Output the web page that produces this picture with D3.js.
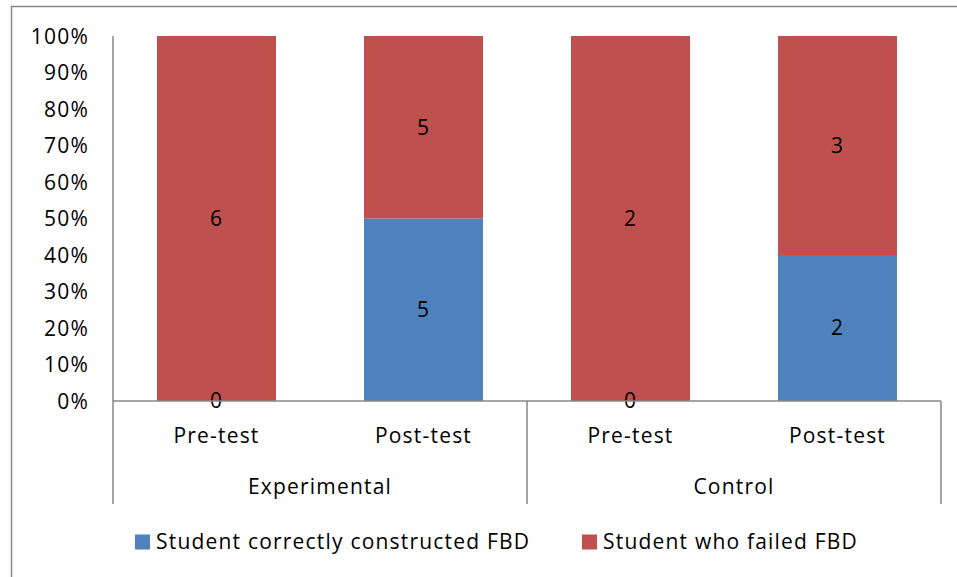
<!DOCTYPE html>
<html>
<head>
<meta charset="utf-8">
<script src="https://cdn.jsdelivr.net/npm/d3@7"></script>
<style>
  html, body { margin: 0; padding: 0; background: #fff; }
  svg text { font-family: "Open Sans", "DejaVu Sans", sans-serif; fill: #000; letter-spacing: 1.2px; }
</style>
</head>
<body>
<svg id="chart" width="957" height="577"></svg>
<script>
// Groups and the test phase within each group
const groups = ["Experimental", "Control"];
const phases = ["Pre-test", "Post-test"];
// Number of students per bar, in order: Exp Pre, Exp Post, Ctrl Pre, Ctrl Post
const correctCounts = [0, 5, 0, 2];
const failedCounts = [6, 5, 2, 3];
const seriesNames = ["Student correctly constructed FBD", "Student who failed FBD"];
const seriesColors = ["#4F81BD", "#C0504D"];
const yTicks = [0, 0.1, 0.2, 0.3, 0.4, 0.5, 0.6, 0.7, 0.8, 0.9, 1.0];

const svg = d3.select("#chart");
const W = 957, H = 577;
const plot = { left: 113, right: 941, top: 36, bottom: 401 };
const fontSize = 21;
const lineColor = "#878787";

// outer chart frame
svg.append("rect")
  .attr("x", 11.5).attr("y", 6.5)
  .attr("width", W + 20).attr("height", H + 20)
  .attr("fill", "none").attr("stroke", lineColor).attr("stroke-width", 1.5);

// bar rows
const rows = [];
groups.forEach((g, gi) => phases.forEach((p, pi) => {
  const i = gi * phases.length + pi;
  rows.push({ key: g + "|" + p, group: g, phase: p, correct: correctCounts[i], failed: failedCounts[i] });
}));

const x = d3.scaleBand()
  .domain(rows.map(d => d.key))
  .range([plot.left, plot.right])
  .paddingInner(0.425).paddingOuter(0.2125);
const y = d3.scaleLinear().domain([0, 1]).range([plot.bottom, plot.top]);

const stack = d3.stack()
  .keys(["correct", "failed"])
  .offset(d3.stackOffsetExpand);
const stacked = stack(rows);

// y axis labels
const yAxis = d3.axisLeft(y).tickValues(yTicks).tickFormat(d3.format(".0%")).tickSize(0).tickPadding(24);
const ya = svg.append("g").attr("transform", `translate(${plot.left},0)`).call(yAxis);
ya.select(".domain").remove();
ya.selectAll("text").attr("font-size", fontSize).style("font-family", null).attr("dy", "0.35em");

// bars
const layers = svg.append("g").selectAll("g").data(stacked).join("g")
  .attr("fill", (d, i) => seriesColors[i]);
layers.selectAll("rect").data(d => d).join("rect")
  .attr("x", d => x(d.data.key))
  .attr("width", x.bandwidth())
  .attr("y", d => y(d[1]))
  .attr("height", d => y(d[0]) - y(d[1]));

// value labels at the middle of each segment
stacked.forEach((layer, li) => {
  svg.append("g").selectAll("text").data(layer).join("text")
    .attr("x", d => x(d.data.key) + x.bandwidth() / 2)
    .attr("y", d => y((d[0] + d[1]) / 2))
    .attr("dy", "0.35em")
    .attr("text-anchor", "middle")
    .attr("font-size", fontSize)
    .text(d => d.data[layer.key]);
});

// axes lines
const axisG = svg.append("g").attr("stroke", lineColor).attr("stroke-width", 1.5);
axisG.append("line").attr("x1", plot.left).attr("x2", plot.left).attr("y1", plot.top).attr("y2", 504);
axisG.append("line").attr("x1", plot.left).attr("x2", plot.right).attr("y1", plot.bottom).attr("y2", plot.bottom);
// group dividers
const groupEdges = groups.map((g, gi) => x(rows[gi * phases.length].key) - x.step() * x.paddingOuter());
groupEdges.push(plot.right);
groupEdges.slice(1).forEach(xx => {
  axisG.append("line").attr("x1", xx).attr("x2", xx).attr("y1", plot.bottom).attr("y2", 504);
});

// phase labels
svg.append("g").selectAll("text").data(rows).join("text")
  .attr("x", d => x(d.key) + x.bandwidth() / 2)
  .attr("y", 436).attr("dy", "0.35em")
  .attr("text-anchor", "middle").attr("font-size", fontSize)
  .text(d => d.phase);

// group labels
svg.append("g").selectAll("text").data(groups).join("text")
  .attr("x", (g, gi) => (groupEdges[gi] + groupEdges[gi + 1]) / 2)
  .attr("y", 487).attr("dy", "0.35em")
  .attr("text-anchor", "middle").attr("font-size", fontSize)
  .text(g => g);

// legend
const legendX = [135, 582];
const legend = svg.append("g").selectAll("g").data(seriesNames).join("g")
  .attr("transform", (d, i) => `translate(${legendX[i]},542)`);
legend.append("rect").attr("x", 0).attr("y", -7.5).attr("width", 15).attr("height", 15)
  .attr("fill", (d, i) => seriesColors[i]);
legend.append("text").attr("x", 21).attr("dy", "0.35em").attr("font-size", fontSize).text(d => d);
</script>
</body>
</html>
